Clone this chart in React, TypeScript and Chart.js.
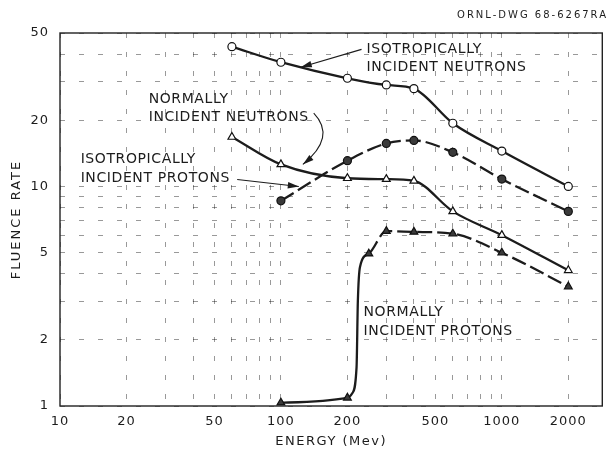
import React, { useEffect, useRef } from 'react';
import { Chart, registerables } from 'chart.js';

Chart.register(...registerables);

// ---- data ----
const isoNeutronEnergy = [60, 100, 200, 300, 400, 600, 1000, 2000];
const isoNeutronRate = [43.3, 36.8, 31.1, 29.0, 27.9, 19.4, 14.5, 10.0];

const normNeutronEnergy = [100, 200, 300, 400, 600, 1000, 2000];
const normNeutronRate = [8.6, 13.1, 15.7, 16.2, 14.3, 10.8, 7.7];

const isoProtonEnergy = [60, 100, 200, 300, 400, 600, 1000, 2000];
const isoProtonRate = [16.8, 12.6, 10.9, 10.8, 10.6, 7.7, 6.0, 4.15];

const normProtonEnergy = [100, 200, 250, 300, 400, 600, 1000, 2000];
const normProtonRate = [1.035, 1.09, 4.94, 6.26, 6.21, 6.09, 4.99, 3.5];
// unmarked points traced along the steep rise of the normally-incident-proton curve
const normProtonRiseEnergy = [210, 220, 223, 228];
const normProtonRiseRate = [1.14, 1.5, 3.0, 4.3];

// axes
const xGridValues = [10, 20, 30, 40, 50, 60, 70, 80, 90, 100, 200, 300, 400, 500, 600, 700, 800, 900, 1000, 2000];
const xTickLabels = [10, 20, 50, 100, 200, 500, 1000, 2000];
const yGridValues = [1, 2, 3, 4, 5, 6, 7, 8, 9, 10, 20, 30, 40, 50];
const yTickLabels = [1, 2, 5, 10, 20, 50];
const xMin = 10;
const xMax = 2850;
const yMin = 1;
const yMax = 50;

// texts
const xTitle = 'ENERGY (Mev)';
const yTitle = 'FLUENCE RATE';
const drawingId = 'ORNL-DWG 68-6267RA';

type Note = {
  lines: string[];
  at: [number, number]; // energy, rate of first line's left-middle
  arrow?: [number, number][]; // start, (control), tip in data coords
};

const notes: Note[] = [
  { lines: ['ISOTROPICALLY', 'INCIDENT NEUTRONS'], at: [244, 42.2], arrow: [[231.7, 42.1], [123, 34.9]] },
  { lines: ['NORMALLY', 'INCIDENT NEUTRONS'], at: [25.2, 25.0], arrow: [[140.8, 21.6], [178.8, 16.8], [125.7, 12.6]] },
  { lines: ['ISOTROPICALLY', 'INCIDENT PROTONS'], at: [12.4, 13.25], arrow: [[63.4, 10.76], [120.5, 10.0]] },
  { lines: ['NORMALLY', 'INCIDENT PROTONS'], at: [236.6, 2.66] },
];

const FONT = '"DejaVu Sans", "Liberation Sans", sans-serif';
const INK = '#1c1c1c';

function pts(xs: number[], ys: number[]) {
  return xs.map((x, i) => ({ x, y: ys[i] }));
}

function arrowHead(ctx: CanvasRenderingContext2D, fx: number, fy: number, tx: number, ty: number) {
  const a = Math.atan2(ty - fy, tx - fx);
  const len = 11;
  const half = 3.2;
  const bx = tx - len * Math.cos(a);
  const by = ty - len * Math.sin(a);
  ctx.beginPath();
  ctx.moveTo(tx, ty);
  ctx.lineTo(bx + half * Math.sin(a), by - half * Math.cos(a));
  ctx.lineTo(bx - half * Math.sin(a), by + half * Math.cos(a));
  ctx.closePath();
  ctx.fill();
}

const decorPlugin = {
  id: 'decor',
  beforeDraw(chart: any) {
    chart.ctx.letterSpacing = '1px';
  },
  afterDraw(chart: any) {
    const ctx: CanvasRenderingContext2D = chart.ctx;
    const xs = chart.scales.x;
    const ys = chart.scales.y;
    const area = chart.chartArea;
    const px = (e: number) => xs.getPixelForValue(e);
    const py = (v: number) => ys.getPixelForValue(v);
    ctx.save();
    // frame
    ctx.strokeStyle = '#222';
    ctx.lineWidth = 1.4;
    ctx.strokeRect(area.left, area.top, area.right - area.left, area.bottom - area.top);

    ctx.fillStyle = INK;
    ctx.strokeStyle = INK;
    // notes
    (ctx as any).letterSpacing = '0.6px';
    ctx.font = `14px ${FONT}`;
    ctx.textAlign = 'left';
    ctx.textBaseline = 'middle';
    for (const n of notes) {
      const x0 = px(n.at[0]);
      const y0 = py(n.at[1]);
      n.lines.forEach((l, i) => ctx.fillText(l, x0, y0 + i * 18.5));
      if (n.arrow) {
        const p = n.arrow.map(([e, v]) => [px(e), py(v)]);
        ctx.lineWidth = 1.1;
        ctx.beginPath();
        ctx.moveTo(p[0][0], p[0][1]);
        if (p.length === 3) ctx.quadraticCurveTo(p[1][0], p[1][1], p[2][0], p[2][1]);
        else ctx.lineTo(p[1][0], p[1][1]);
        ctx.stroke();
        const a = p[p.length - 2];
        const b = p[p.length - 1];
        arrowHead(ctx, a[0], a[1], b[0], b[1]);
      }
    }
    // axis titles
    (ctx as any).letterSpacing = '1.5px';
    ctx.font = `13px ${FONT}`;
    ctx.textAlign = 'center';
    ctx.fillText(xTitle, (area.left + area.right) / 2, 442);
    ctx.save();
    ctx.translate(17, (area.top + area.bottom) / 2);
    ctx.rotate(-Math.PI / 2);
    (ctx as any).letterSpacing = '2px';
    ctx.fillText(yTitle, 0, 0);
    ctx.restore();
    // drawing id
    (ctx as any).letterSpacing = '2px';
    ctx.font = `10px ${FONT}`;
    ctx.textAlign = 'right';
    ctx.fillText(drawingId, 608, 15);
    ctx.restore();
    (ctx as any).letterSpacing = '0px';
  },
};

export default function App() {
  const ref = useRef<HTMLCanvasElement | null>(null);

  useEffect(() => {
    if (!ref.current) return;
    const normProtonData = [
      ...normProtonEnergy.map((x, i) => ({ x, y: normProtonRate[i], marked: true })),
      ...normProtonRiseEnergy.map((x, i) => ({ x, y: normProtonRiseRate[i], marked: false })),
    ].sort((a, b) => a.x - b.x);

    const lineBase = {
      borderColor: INK,
      borderWidth: 2.3,
      cubicInterpolationMode: 'monotone' as const,
      pointBorderColor: '#111',
      pointBorderWidth: 1.2,
    };

    const gridColor = 'rgba(0,0,0,0.4)';
    const chart = new Chart(ref.current, {
      type: 'line',
      data: {
        datasets: [
          {
            ...lineBase,
            label: 'Isotropically incident neutrons',
            data: pts(isoNeutronEnergy, isoNeutronRate),
            pointStyle: 'circle',
            pointRadius: 4,
            pointBackgroundColor: '#fff',
          },
          {
            ...lineBase,
            label: 'Normally incident neutrons',
            data: pts(normNeutronEnergy, normNeutronRate),
            borderDash: [15, 5],
            pointStyle: 'circle',
            pointRadius: 4,
            pointBackgroundColor: '#3a3a3a',
          },
          {
            ...lineBase,
            label: 'Isotropically incident protons',
            data: pts(isoProtonEnergy, isoProtonRate),
            pointStyle: 'triangle',
            pointRadius: 4.5,
            pointBackgroundColor: '#fff',
          },
          {
            ...lineBase,
            label: 'Normally incident protons',
            data: normProtonData,
            segment: {
              borderDash: (c: any) => (c.p0.parsed.x >= 245 ? [15, 5] : undefined),
            },
            pointStyle: 'triangle',
            pointRadius: (c: any) => (c.raw && c.raw.marked ? 4.5 : 0),
            pointBackgroundColor: '#3a3a3a',
          },
        ],
      },
      options: {
        responsive: false,
        animation: false,
        layout: { padding: { top: 33, right: 3, left: 0, bottom: 0 } },
        plugins: { legend: { display: false }, tooltip: { enabled: false } },
        scales: {
          x: {
            type: 'logarithmic',
            min: xMin,
            max: xMax,
            afterFit: (s: any) => { s.height = 44; },
            afterBuildTicks: (s: any) => { s.ticks = xGridValues.map((v) => ({ value: v })); },
            ticks: {
              autoSkip: false,
              maxRotation: 0,
              padding: 8,
              color: INK,
              font: { family: FONT, size: 13 },
              callback: (v: any) => (xTickLabels.includes(Number(v)) ? String(v) : ''),
            },
            grid: { drawTicks: false, color: gridColor, lineWidth: 1 },
            border: { display: false, dash: [5, 14] },
          },
          y: {
            type: 'logarithmic',
            min: yMin,
            max: yMax,
            afterFit: (s: any) => { s.width = 60; },
            afterBuildTicks: (s: any) => { s.ticks = yGridValues.map((v) => ({ value: v })); },
            ticks: {
              autoSkip: false,
              padding: 11,
              color: INK,
              font: { family: FONT, size: 13 },
              callback: (v: any) => (yTickLabels.includes(Number(v)) ? String(v) : ''),
            },
            grid: { drawTicks: false, color: gridColor, lineWidth: 1 },
            border: { display: false, dash: [5, 14] },
          },
        },
      } as any,
      plugins: [decorPlugin],
    });
    return () => chart.destroy();
  }, []);

  return (
    <div style={{ position: 'absolute', left: 0, top: 0, width: 608, height: 450, background: '#fff' }}>
      <canvas ref={ref} width={608} height={450} />
    </div>
  );
}
